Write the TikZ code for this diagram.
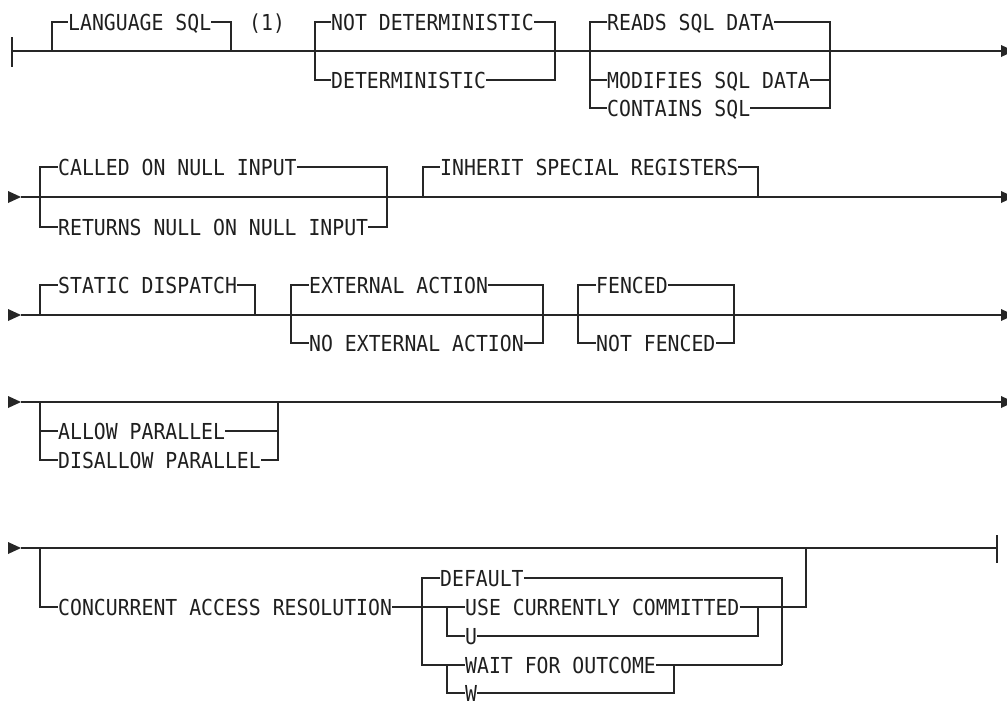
\documentclass[tikz,border=0pt]{standalone}
\usepackage{fontspec}
\newfontfamily\railfont[FakeStretch=0.9]{DejaVu Sans Mono}
\begin{document}
\begin{tikzpicture}[x=1pt,y=-1pt,
  rail/.style={draw=black!85, line width=1.4pt},
  tipfill/.style={fill=black!85},
  lbl/.style={font=\railfont\fontsize{22pt}{22pt}\selectfont, inner sep=0pt,
    text height=16pt, text depth=0pt, anchor=west, text=black!88}]
\useasboundingbox (0,0) rectangle (1007,702);
\fill[white] (0,0) rectangle (1007,702);

% ---------- Row 1 ----------
\coordinate (r1s) at (12,51);
\coordinate (r1e) at (1001,51);
\draw[rail] (r1s) -- (r1e);
\draw[rail] (12,37) -- (12,67);
\fill[tipfill] (1001,45) -- (1014,51) -- (1001,57) -- cycle;

\node[lbl] (lang) at (68,22) {LANGUAGE SQL};
\coordinate (a1) at (52,51);
\coordinate (a2) at (231,51);
\draw[rail] (a1) |- (lang.west);
\draw[rail] (lang.east) -| (a2);
\node[lbl] (fn) at (249,22) {(1)};

\node[lbl] (nd) at (331,22) {NOT DETERMINISTIC};
\node[lbl] (dt) at (331,80) {DETERMINISTIC};
\coordinate (b2) at (555,51);
\draw[rail] (nd.west) -- ++(-16,0) |- (dt.west);
\draw[rail] (nd.east) -| (b2) |- (dt.east);

\node[lbl] (rd) at (607,22) {READS SQL DATA};
\node[lbl] (md) at (607,80) {MODIFIES SQL DATA};
\node[lbl] (cs) at (607,108) {CONTAINS SQL};
\coordinate (c2) at (830,51);
\draw[rail] (rd.west) -- ++(-17,0) |- (cs.west);
\draw[rail] (md.west) -- ++(-17,0);
\draw[rail] (rd.east) -| (c2) |- (cs.east);
\draw[rail] (md.east) -| (c2);

% ---------- Row 2 ----------
\coordinate (r2s) at (21,197);
\coordinate (r2e) at (1001,197);
\fill[tipfill] (8,191) -- (21,197) -- (8,203) -- cycle;
\draw[rail] (r2s) -- (r2e);
\fill[tipfill] (1001,191) -- (1014,197) -- (1001,203) -- cycle;

\node[lbl] (cn) at (58,167) {CALLED ON NULL INPUT};
\node[lbl] (rn) at (58,227) {RETURNS NULL ON NULL INPUT};
\coordinate (d2) at (387,197);
\draw[rail] (cn.west) -- ++(-18,0) |- (rn.west);
\draw[rail] (cn.east) -| (d2) |- (rn.east);

\node[lbl] (ih) at (440,167) {INHERIT SPECIAL REGISTERS};
\coordinate (e1) at (423,197);
\coordinate (e2) at (758,197);
\draw[rail] (e1) |- (ih.west);
\draw[rail] (ih.east) -| (e2);

% ---------- Row 3 ----------
\coordinate (r3s) at (21,315);
\coordinate (r3e) at (1001,315);
\fill[tipfill] (8,309) -- (21,315) -- (8,321) -- cycle;
\draw[rail] (r3s) -- (r3e);
\fill[tipfill] (1001,309) -- (1014,315) -- (1001,321) -- cycle;

\node[lbl] (sd) at (58,285) {STATIC DISPATCH};
\coordinate (f1) at (40,315);
\coordinate (f2) at (255,315);
\draw[rail] (f1) |- (sd.west);
\draw[rail] (sd.east) -| (f2);

\node[lbl] (ea) at (309,285) {EXTERNAL ACTION};
\node[lbl] (nea) at (309,343) {NO EXTERNAL ACTION};
\coordinate (g2) at (543,315);
\draw[rail] (ea.west) -- ++(-18,0) |- (nea.west);
\draw[rail] (ea.east) -| (g2) |- (nea.east);

\node[lbl] (fc) at (596,285) {FENCED};
\node[lbl] (nf) at (596,343) {NOT FENCED};
\coordinate (h2) at (734,315);
\draw[rail] (fc.west) -- ++(-18,0) |- (nf.west);
\draw[rail] (fc.east) -| (h2) |- (nf.east);

% ---------- Row 4 ----------
\coordinate (r4s) at (21,402);
\coordinate (r4e) at (1001,402);
\fill[tipfill] (8,396) -- (21,402) -- (8,408) -- cycle;
\draw[rail] (r4s) -- (r4e);
\fill[tipfill] (1001,396) -- (1014,402) -- (1001,408) -- cycle;

\node[lbl] (ap) at (58,431) {ALLOW PARALLEL};
\node[lbl] (dp) at (58,460) {DISALLOW PARALLEL};
\coordinate (i1) at (40,402);
\coordinate (i2) at (278,402);
\draw[rail] (i1) |- (dp.west);
\draw[rail] (ap.west) -- ++(-18,0);
\draw[rail] (ap.east) -| (i2);
\draw[rail] (dp.east) -| (i2);

% ---------- Row 5 ----------
\coordinate (r5s) at (21,548);
\coordinate (r5e) at (997,548);
\fill[tipfill] (8,542) -- (21,548) -- (8,554) -- cycle;
\draw[rail] (r5s) -- (r5e);
\draw[rail] (997,535) -- (997,563);

\node[lbl] (car) at (58,607) {CONCURRENT ACCESS RESOLUTION};
\coordinate (j1) at (40,548);
\draw[rail] (j1) |- (car.west);

\node[lbl] (df) at (440,578) {DEFAULT};
\node[lbl] (use) at (465,607) {USE CURRENTLY COMMITTED};
\node[lbl] (u) at (465,636) {U};
\node[lbl] (wt) at (465,665) {WAIT FOR OUTCOME};
\node[lbl] (w) at (465,693) {W};

\draw[rail] (car.east) -- (use.west);
\draw[rail] (df.west) -- ++(-18,0) |- (wt.west);
\draw[rail] (u.west) -- ++(-18,0) |- (use.west);
\draw[rail] (w.west) -- ++(-18,0) |- (wt.west);

\coordinate (dr) at (782,665);
\draw[rail] (df.east) -| (dr);
\draw[rail] (wt.east) -- (dr);

\coordinate (m) at (758,607);
\draw[rail] (u.east) -| (m);
\coordinate (n) at (674,665);
\draw[rail] (w.east) -| (n);

\coordinate (k) at (806,548);
\coordinate (k2) at (806,607);
\draw[rail] (use.east) -- (k2) -- (k);
\end{tikzpicture}
\end{document}
